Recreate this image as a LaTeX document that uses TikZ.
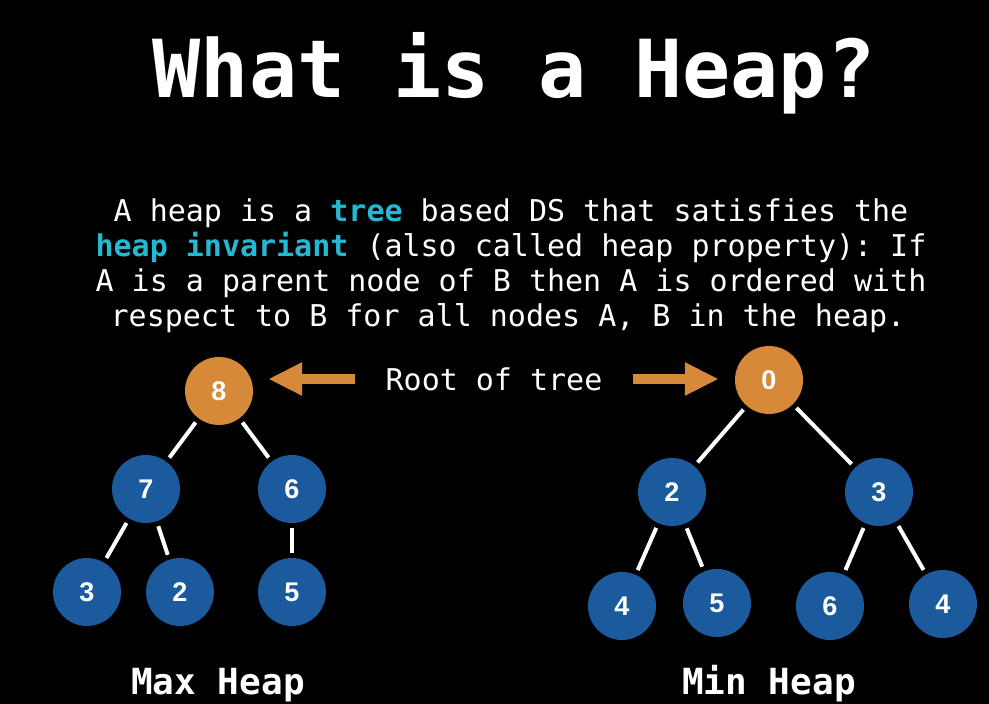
\documentclass[tikz,border=0pt]{standalone}
\usepackage{fontspec}
\setmonofont{DejaVu Sans Mono}
\newfontfamily\digitfont{Liberation Sans}
\usetikzlibrary{arrows.meta}
\definecolor{rootorange}{RGB}{213,137,57}
\definecolor{heapblue}{RGB}{27,90,156}
\definecolor{keycyan}{RGB}{38,183,210}
\tikzset{
  heapnode/.style={circle, fill=heapblue, minimum size=68pt, inner sep=0pt,
    text=white, font=\digitfont\bfseries\fontsize{27}{27}\selectfont},
  rootnode/.style={heapnode, fill=rootorange},
  edge/.style={draw=white, line width=4pt, shorten <=5pt, shorten >=5pt},
  pointer/.style={draw=rootorange, line width=10pt,
    -{Triangle[length=34pt,width=31pt]}},
  bodytext/.style={text=white, font=\ttfamily\fontsize{30}{35}\selectfont, anchor=base, inner sep=0pt},
}
\begin{document}
\begin{tikzpicture}[x=1pt, y=-1pt]
  \fill[black] (0,0) rectangle (989,704);
  \useasboundingbox (0,0) rectangle (989,704);

  % title
  \node[text=white, font=\ttfamily\bfseries\fontsize{80}{80}\selectfont, anchor=base, inner sep=0pt]
    (title) at (514,97) {What is a Heap?};

  % definition
  \node[bodytext] (l1) at (511,221) {A heap is a \textcolor{keycyan}{\bfseries tree} based DS that satisfies the};
  \node[bodytext] (l2) at (511,256) {\textcolor{keycyan}{\bfseries heap invariant} (also called heap property): If};
  \node[bodytext] (l3) at (511,291) {A is a parent node of B then A is ordered with};
  \node[bodytext] (l4) at (508,326) {respect to B for all nodes A, B in the heap.};

  % max heap
  \node[rootnode] (m8) at (219,391) {8};
  \node[heapnode] (m7) at (146,489) {7};
  \node[heapnode] (m6) at (292,489) {6};
  \node[heapnode] (m3) at (87,592) {3};
  \node[heapnode] (m2) at (180,592) {2};
  \node[heapnode] (m5) at (292,592) {5};
  \draw[edge] (m8) -- (m7);
  \draw[edge] (m8) -- (m6);
  \draw[edge] (m7) -- (m3);
  \draw[edge] (m7) -- (m2);
  \draw[edge] (m6) -- (m5);

  % min heap
  \node[rootnode] (n0) at (769,380) {0};
  \node[heapnode] (n2) at (672,492) {2};
  \node[heapnode] (n3) at (879,492) {3};
  \node[heapnode] (n4a) at (622,606) {4};
  \node[heapnode] (n5) at (717,603) {5};
  \node[heapnode] (n6) at (830,606) {6};
  \node[heapnode] (n4b) at (943,604) {4};
  \draw[edge] (n0) -- (n2);
  \draw[edge] (n0) -- (n3);
  \draw[edge] (n2) -- (n4a);
  \draw[edge] (n2) -- (n5);
  \draw[edge] (n3) -- (n6);
  \draw[edge] (n3) -- (n4b);

  % root label and pointers
  \node[text=white, font=\ttfamily\fontsize{30}{35}\selectfont, inner sep=0pt, anchor=base]
    (root) at (494,390) {Root of tree};
  \coordinate (rl) at (355,379);
  \coordinate (rr) at (633,379);
  \draw[pointer, shorten >=15pt] (rl) -- (m8.east |- rl);
  \draw[pointer, shorten >=16pt] (rr) -- (n0.west |- rr);

  % captions
  \node[text=white, font=\ttfamily\bfseries\fontsize{36}{36}\selectfont, anchor=base, inner sep=0pt]
    (maxcap) at (218,694) {Max Heap};
  \node[text=white, font=\ttfamily\bfseries\fontsize{36}{36}\selectfont, anchor=base, inner sep=0pt]
    (mincap) at (769,694) {Min Heap};
\end{tikzpicture}
\end{document}
